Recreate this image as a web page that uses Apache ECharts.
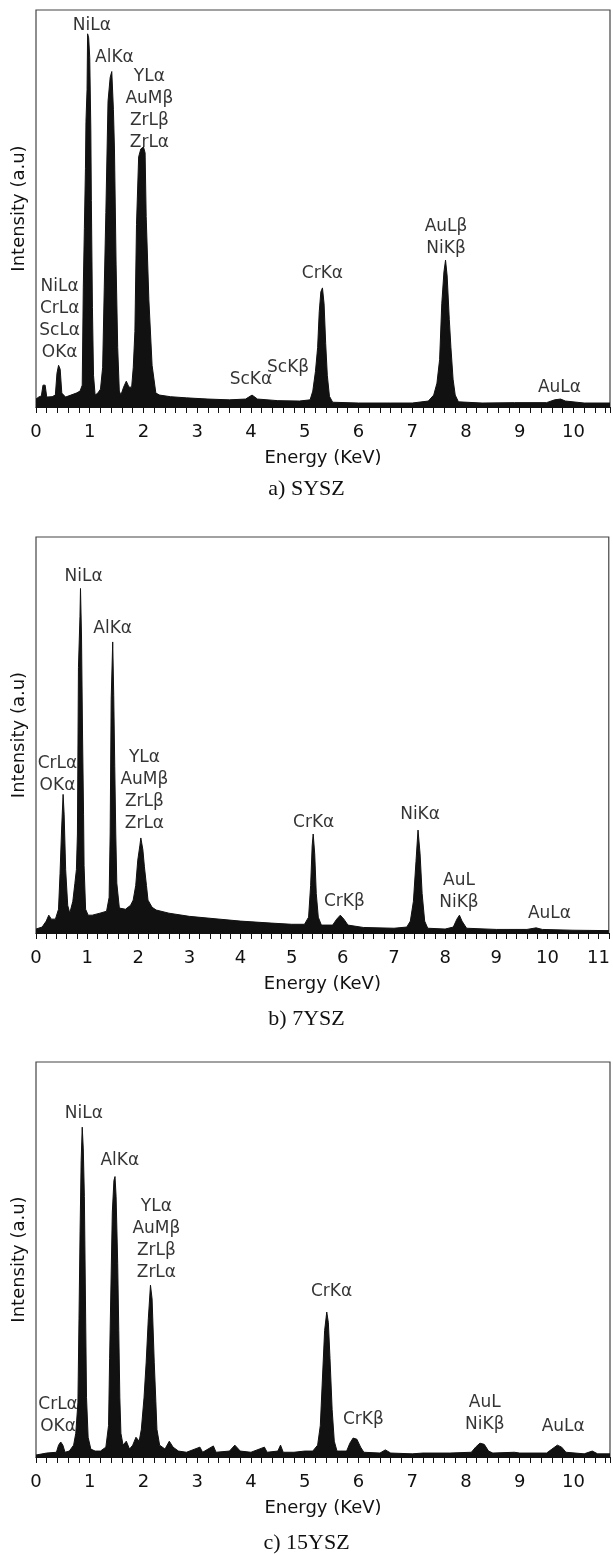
<!DOCTYPE html>
<html>
<head>
<meta charset="utf-8">
<title>EDS spectra</title>
<script src="https://cdn.jsdelivr.net/npm/echarts@6/dist/echarts.min.js"></script>
<style>
  html, body { margin: 0; padding: 0; background: #fff; }
  #chart { width: 613px; height: 1555px; }
</style>
</head>
<body>
<div id="chart"></div>
<script>
// spectra: [energy keV, intensity % of frame height]
const spectrumSYSZ = [
  [0.00, 2.0], [0.05, 2.5], [0.10, 2.8], [0.13, 5.5], [0.17, 5.5], [0.20, 2.5], [0.30, 2.6],
  [0.36, 3.0], [0.39, 8.5], [0.42, 10.5], [0.45, 9.5], [0.48, 3.5], [0.55, 2.5], [0.65, 3.0],
  [0.75, 3.5], [0.82, 4.0], [0.86, 5.5], [0.88, 30], [0.90, 45], [0.92, 60], [0.93, 72],
  [0.95, 80], [0.96, 94], [0.98, 93], [1.00, 88], [1.02, 70], [1.03, 52], [1.05, 25],
  [1.07, 8], [1.10, 3], [1.15, 3.5], [1.20, 4.5], [1.24, 10], [1.27, 30], [1.30, 49],
  [1.34, 77], [1.38, 83], [1.41, 84.5], [1.44, 75], [1.46, 65], [1.49, 36], [1.52, 15],
  [1.55, 4], [1.58, 3], [1.63, 5], [1.68, 6.5], [1.73, 5], [1.78, 5], [1.81, 10], [1.84, 19],
  [1.87, 46], [1.91, 63], [1.95, 65], [2.00, 65.5], [2.03, 64], [2.05, 48], [2.10, 27],
  [2.16, 10.5], [2.23, 3.5], [2.30, 3.0], [2.50, 2.6], [2.80, 2.3], [3.20, 2.0], [3.60, 1.8],
  [3.90, 2.0], [4.02, 3.0], [4.12, 2.0], [4.50, 1.6], [4.90, 1.5], [5.10, 1.8], [5.15, 4],
  [5.20, 9], [5.24, 15], [5.27, 24], [5.30, 29], [5.33, 30], [5.36, 26], [5.39, 16],
  [5.42, 8], [5.46, 2.7], [5.52, 1.2], [6.00, 1.0], [6.60, 1.0], [7.00, 1.0], [7.30, 1.5],
  [7.40, 3], [7.46, 6], [7.51, 12], [7.55, 26], [7.59, 34], [7.62, 37], [7.65, 33],
  [7.69, 22], [7.72, 15], [7.76, 7], [7.80, 3], [7.86, 1.3], [8.30, 1.0], [8.90, 1.1],
  [9.50, 1.1], [9.65, 1.8], [9.76, 2.0], [9.85, 1.5], [10.20, 1.0], [10.68, 1.0]
];
const spectrum7YSZ = [
  [0.00, 1.0], [0.12, 1.5], [0.20, 3], [0.25, 4.5], [0.30, 3.5], [0.38, 3.5], [0.44, 6],
  [0.47, 15], [0.50, 26], [0.53, 35], [0.55, 30], [0.58, 16], [0.62, 7], [0.66, 5],
  [0.72, 8], [0.76, 12.5], [0.79, 16], [0.81, 25], [0.83, 67], [0.86, 80], [0.87, 87],
  [0.89, 75], [0.91, 50], [0.93, 30], [0.94, 17], [0.97, 6], [1.02, 4.5], [1.10, 4.5],
  [1.25, 5], [1.38, 5.5], [1.43, 9], [1.45, 25], [1.47, 59], [1.50, 73.5], [1.52, 60],
  [1.54, 42], [1.56, 25], [1.58, 12.6], [1.63, 6.3], [1.75, 6], [1.85, 7], [1.90, 8.3],
  [1.95, 12], [1.99, 18.4], [2.03, 22], [2.05, 24], [2.09, 21], [2.12, 16.7], [2.16, 12],
  [2.19, 8.3], [2.27, 6.5], [2.35, 5.8], [2.60, 5.0], [3.00, 4.2], [3.50, 3.6], [4.00, 3.0],
  [4.60, 2.5], [5.00, 2.2], [5.25, 2.2], [5.33, 4], [5.37, 12], [5.40, 22], [5.42, 25],
  [5.45, 20], [5.48, 10], [5.52, 4], [5.58, 2], [5.80, 2], [5.88, 3.5], [5.95, 4.5],
  [6.02, 3.5], [6.10, 2], [6.40, 1.4], [7.00, 1.2], [7.25, 1.5], [7.32, 3], [7.38, 8],
  [7.43, 18], [7.47, 26], [7.51, 20], [7.55, 10], [7.60, 3], [7.66, 1.2], [8.00, 1.0],
  [8.16, 1.5], [8.23, 3.5], [8.28, 4.5], [8.33, 3], [8.42, 1.2], [9.00, 0.9], [9.60, 0.9],
  [9.78, 1.3], [9.90, 0.9], [10.50, 0.7], [11.20, 0.6]
];
const spectrum15YSZ = [
  [0.00, 0.5], [0.20, 1.0], [0.38, 1.2], [0.42, 3], [0.46, 3.8], [0.50, 3], [0.54, 1.2],
  [0.62, 1.5], [0.70, 3], [0.74, 6], [0.78, 13.7], [0.80, 35], [0.82, 57], [0.84, 75],
  [0.86, 83.5], [0.88, 78], [0.90, 66], [0.92, 40], [0.94, 15], [0.97, 5], [1.02, 2],
  [1.10, 1.5], [1.20, 1.5], [1.30, 2.5], [1.35, 8], [1.37, 25], [1.39, 40], [1.42, 62],
  [1.45, 70], [1.47, 71], [1.49, 66], [1.52, 49], [1.54, 32], [1.56, 15], [1.58, 6],
  [1.62, 3], [1.68, 4], [1.74, 2], [1.80, 3], [1.86, 5], [1.92, 4], [1.96, 7], [2.01, 15],
  [2.05, 24], [2.09, 35], [2.13, 43.5], [2.16, 40], [2.20, 24], [2.23, 14], [2.25, 7],
  [2.30, 3], [2.40, 2], [2.48, 4], [2.55, 2.5], [2.65, 1.5], [2.80, 1.2], [3.05, 2.5],
  [3.10, 1.2], [3.30, 2.8], [3.35, 1.2], [3.60, 1.5], [3.70, 3], [3.80, 1.5], [4.00, 1.2],
  [4.25, 2.5], [4.30, 1.2], [4.50, 1.5], [4.55, 3], [4.60, 1.2], [4.80, 1.2], [5.00, 1.5],
  [5.15, 1.5], [5.24, 3], [5.29, 8], [5.33, 20], [5.37, 32], [5.41, 36.7], [5.44, 34],
  [5.47, 25], [5.51, 12], [5.55, 4], [5.60, 1.5], [5.78, 1.5], [5.84, 3.5], [5.90, 4.8],
  [5.97, 4.5], [6.04, 2.5], [6.10, 1.2], [6.40, 1.0], [6.50, 1.8], [6.60, 1.0], [7.00, 0.8],
  [7.20, 1.0], [7.70, 1.0], [8.10, 1.2], [8.18, 2.5], [8.26, 3.5], [8.34, 3.2], [8.42, 1.5],
  [8.50, 1.0], [8.90, 1.2], [9.00, 1.0], [9.50, 1.0], [9.60, 2], [9.70, 3.0], [9.78, 2.5],
  [9.86, 1.2], [10.20, 0.8], [10.35, 1.5], [10.45, 0.8], [10.68, 0.8]
];

// peak annotations: [energy, intensity, text]
const peaksSYSZ = [
  [1.04, 96, 'NiLα'],
  [1.46, 88, 'AlKα'],
  [2.11, 75, 'YLα\nAuMβ\nZrLβ\nZrLα'],
  [0.44, 22, 'NiLα\nCrLα\nScLα\nOKα'],
  [4.00, 6.8, 'ScKα'],
  [4.69, 10, 'ScKβ'],
  [5.33, 33.7, 'CrKα'],
  [7.63, 42.7, 'AuLβ\nNiKβ'],
  [9.74, 5, 'AuLα']
];
const peaks7YSZ = [
  [0.93, 90, 'NiLα'],
  [1.50, 77, 'AlKα'],
  [0.42, 40, 'CrLα\nOKα'],
  [2.12, 36, 'YLα\nAuMβ\nZrLβ\nZrLα'],
  [5.43, 28, 'CrKα'],
  [7.51, 30, 'NiKα'],
  [6.03, 8, 'CrKβ'],
  [8.27, 10.4, 'AuL\nNiKβ'],
  [10.04, 4.8, 'AuLα']
];
const peaks15YSZ = [
  [0.89, 87, 'NiLα'],
  [1.56, 75, 'AlKα'],
  [2.24, 55, 'YLα\nAuMβ\nZrLβ\nZrLα'],
  [0.41, 10.6, 'CrLα\nOKα'],
  [5.50, 42, 'CrKα'],
  [6.09, 9.6, 'CrKβ'],
  [8.35, 11, 'AuL\nNiKβ'],
  [9.81, 7.6, 'AuLα']
];

const energyMax = [10.68, 11.2, 10.68];
const captions = ['a) SYSZ', 'b) 7YSZ', 'c) 15YSZ'];

const panels = [
  { spec: spectrumSYSZ, peaks: peaksSYSZ, top: 10, height: 397, captionTop: 478 },
  { spec: spectrum7YSZ, peaks: peaks7YSZ, top: 537, height: 396, captionTop: 1008 },
  { spec: spectrum15YSZ, peaks: peaks15YSZ, top: 1062, height: 395, captionTop: 1532 }
];

const ink = '#111';
const sans = 'DejaVu Sans';

const chart = echarts.init(document.getElementById('chart'));

const grid = [], xAxis = [], yAxis = [], series = [], graphic = [];

panels.forEach(function (p, i) {
  grid.push({
    left: 36, width: 576, top: p.top, height: p.height,
    show: true, borderColor: '#444', borderWidth: 1.2, backgroundColor: 'transparent'
  });
  xAxis.push({
    type: 'value', gridIndex: i, min: 0, max: energyMax[i], interval: 0.2,
    name: 'Energy (KeV)', nameLocation: 'middle', nameGap: 42,
    nameTextStyle: { fontFamily: sans, fontSize: 18, color: ink },
    axisLine: { show: true, onZero: false, lineStyle: { color: ink, width: 1.2 } },
    axisTick: { show: true, length: 6, lineStyle: { color: ink, width: 1 } },
    axisLabel: {
      interval: 0, margin: 16, fontFamily: sans, fontSize: 18, color: ink,
      formatter: function (v) {
        return Math.abs(v - Math.round(v)) < 1e-6 ? String(Math.round(v)) : '';
      }
    },
    splitLine: { show: false }
  });
  yAxis.push({
    type: 'value', gridIndex: i, min: 0, max: 100,
    name: 'Intensity (a.u)', nameLocation: 'middle', nameGap: 8,
    nameTextStyle: { fontFamily: sans, fontSize: 18, color: ink },
    axisLine: { show: false }, axisTick: { show: false },
    axisLabel: { show: false }, splitLine: { show: false }
  });
  series.push({
    type: 'line', xAxisIndex: i, yAxisIndex: i, data: p.spec,
    symbol: 'none', smooth: false, animation: false,
    lineStyle: { color: '#111', width: 1 },
    areaStyle: { color: '#111', opacity: 1 }
  });
  series.push({
    type: 'scatter', xAxisIndex: i, yAxisIndex: i, data: p.peaks,
    symbolSize: 1, itemStyle: { color: 'rgba(0,0,0,0)' }, animation: false, silent: true,
    label: {
      show: true, position: 'inside', align: 'center', verticalAlign: 'middle',
      fontFamily: sans, fontSize: 17, lineHeight: 22, color: '#000',
      formatter: function (d) { return d.value[2]; }
    }
  });
  graphic.push({
    type: 'text', left: 'center', top: p.captionTop,
    style: { text: captions[i], font: '22px "Liberation Serif"', fill: ink }
  });
});

chart.setOption({
  animation: false,
  backgroundColor: '#fff',
  grid: grid, xAxis: xAxis, yAxis: yAxis, series: series, graphic: graphic
});
</script>
</body>
</html>
